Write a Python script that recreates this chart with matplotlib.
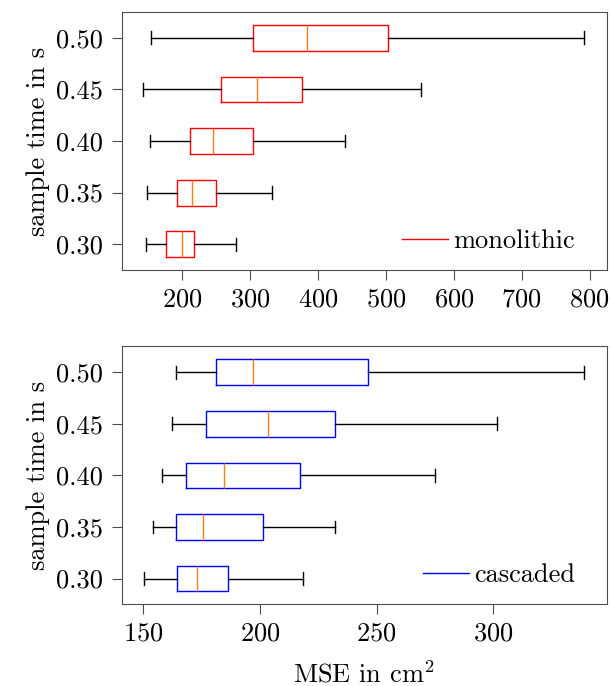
import numpy as np
import matplotlib
matplotlib.use("Agg")
import matplotlib.pyplot as plt
from matplotlib.lines import Line2D

plt.rcParams['font.family'] = 'serif'
plt.rcParams['font.serif'] = ['cmr10', 'DejaVu Serif']
plt.rcParams['mathtext.fontset'] = 'cm'
plt.rcParams['axes.formatter.use_mathtext'] = True
plt.rcParams['font.size'] = 19

sample_times = [0.30, 0.35, 0.40, 0.45, 0.50]
tick_labels = ['0.30', '0.35', '0.40', '0.45', '0.50']

# monolithic: whisker low, q1, median, q3, whisker high
mono_lo  = [147, 148, 152.5, 143, 154]
mono_q1  = [176, 193, 212, 257, 305]
mono_med = [200, 215.5, 246, 311, 384]
mono_q3  = [217.5, 250.5, 305, 377, 502.5]
mono_hi  = [280, 332, 440, 551.5, 792]

# cascaded
casc_lo  = [150.2, 154.3, 157.9, 162.4, 163.9]
casc_q1  = [164.4, 164, 168.3, 176.7, 181.2]
casc_med = [173.1, 175.7, 184.5, 203.3, 197.1]
casc_q3  = [186.4, 201.2, 217.2, 232.3, 246.2]
casc_hi  = [218.4, 232, 275, 301.6, 339.2]


def make_stats(lo, q1, med, q3, hi):
    return [dict(whislo=a, q1=b, med=c, q3=d, whishi=e, fliers=[])
            for a, b, c, d, e in zip(lo, q1, med, q3, hi)]


def draw(ax, stats, color, label):
    ax.bxp(stats, positions=sample_times, widths=0.025, vert=False,
           showfliers=False,
           boxprops=dict(color=color, linewidth=1.0),
           medianprops=dict(color='#ff7f0e', linewidth=1.0),
           whiskerprops=dict(color='black', linewidth=1.0),
           capprops=dict(color='black', linewidth=1.0))
    ax.set_ylim(0.275, 0.525)
    ax.set_yticks(sample_times)
    ax.set_yticklabels(tick_labels)
    ax.set_ylabel('sample time in s')
    ax.tick_params(length=7.5, width=0.8, color='0.3')
    ax.tick_params(axis='y', pad=6)
    ax.tick_params(axis='x', pad=5)
    for s in ax.spines.values():
        s.set_color('0.3')
        s.set_linewidth(0.8)
    ax.legend(handles=[Line2D([], [], color=color, linewidth=1.0)],
              labels=[label], loc='lower right', frameon=False,
              bbox_to_anchor=(0.957, 0.025), borderaxespad=0,
              handlelength=1.75, handletextpad=0.2)


fig = plt.figure(figsize=(6.1, 6.86), dpi=100)
ax1 = fig.add_axes([0.1995, 0.6064, 0.795, 0.376])
ax2 = fig.add_axes([0.1995, 0.119, 0.795, 0.376])

draw(ax1, make_stats(mono_lo, mono_q1, mono_med, mono_q3, mono_hi), 'red', 'monolithic')
draw(ax2, make_stats(casc_lo, casc_q1, casc_med, casc_q3, casc_hi), 'blue', 'cascaded')

ax1.set_xlim(111.3, 825)
ax1.set_xticks([200, 300, 400, 500, 600, 700, 800])
ax2.set_xlim(140.7, 348.7)
ax2.set_xticks([150, 200, 250, 300])
ax2.set_xlabel('MSE in cm$^2$', labelpad=11)

fig.savefig('out.png', dpi=100)
